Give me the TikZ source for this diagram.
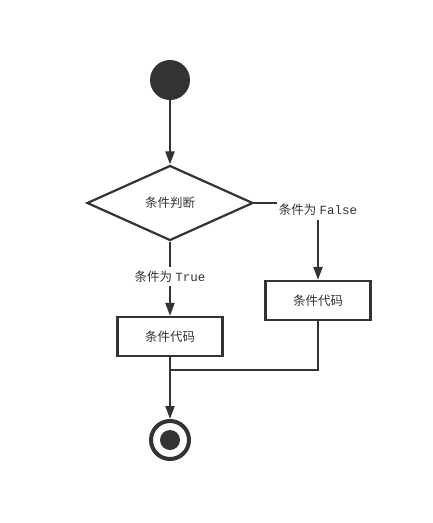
\documentclass[tikz,border=0pt]{standalone}
\usepackage{fontspec}
\setmainfont{Liberation Sans}
\newfontfamily\cjk{Noto Sans CJK SC}
\newfontfamily\monof{Liberation Mono}
\usetikzlibrary{shapes.geometric,arrows.meta}
\definecolor{ink}{HTML}{333333}
\begin{document}
\begin{tikzpicture}[x=1pt,y=-1pt,
  conn/.style={draw=ink,line width=2.2pt},
  arr/.style={conn,-{Triangle[length=13pt,width=9pt]}},
  box/.style={draw=ink,line width=2.2pt,minimum width=105pt,minimum height=39pt,inner sep=0pt,font=\cjk\fontsize{12.5}{14}\selectfont,text=ink},
  lab/.style={fill=white,inner xsep=1.5pt,inner ysep=4pt,text=ink,font=\fontsize{12.5}{14}\selectfont}]
\useasboundingbox (0,0) rectangle (432,523);
\node[circle,fill=ink,minimum size=40pt,inner sep=0pt] (start) at (170,80) {};
\node[diamond,draw=ink,line width=2.2pt,minimum width=166pt,minimum height=75pt,inner sep=0pt,font=\cjk\fontsize{12.5}{14}\selectfont,text=ink] (dec) at (170,203) {条件判断};
\node[box] (rbox) at (318,300.5) {条件代码};
\node[box] (lbox) at (170,336.5) {条件代码};
\node[circle,draw=ink,line width=4pt,minimum size=38pt,inner sep=0pt] (endc) at (170,440) {};
\node[circle,fill=ink,minimum size=20pt,inner sep=0pt] (endi) at (170,440) {};
\coordinate (merge) at (170,370);
\draw[arr] (start) -- (dec.north);
\draw[arr] (dec.south) -- node[lab,pos=0.47] {{\cjk 条件为} {\monof True}} (lbox.north);
\draw[arr] (dec.east) -| (rbox.north);
\node[lab] (flab) at (318,210) {{\cjk 条件为} {\monof False}};
\draw[draw=ink,line width=1.6pt] (rbox.south) |- (merge);
\draw[arr] (lbox.south) -- (endc.north);
\end{tikzpicture}
\end{document}
